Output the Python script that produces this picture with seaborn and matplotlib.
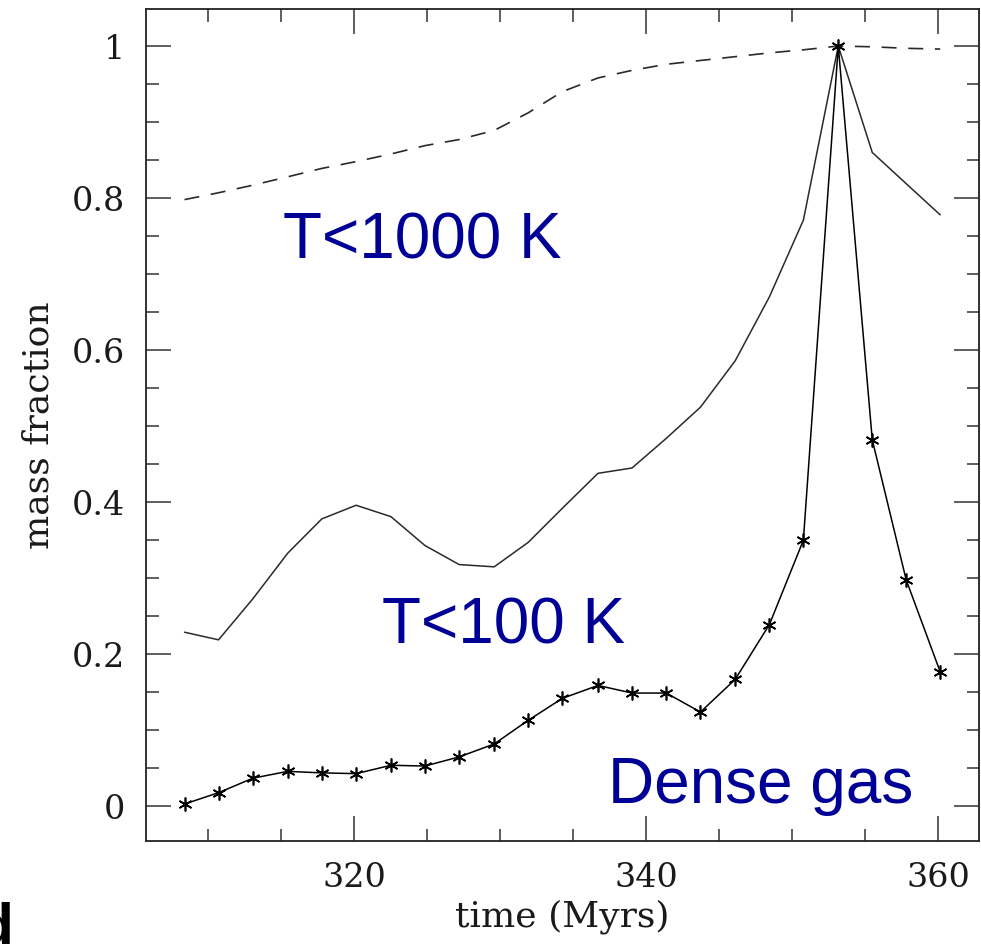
import numpy as np
import pandas as pd
import matplotlib
matplotlib.use("Agg")
import matplotlib.pyplot as plt
import seaborn as sns
from matplotlib.ticker import MultipleLocator, FixedLocator

# ---- data ----
time = [308.37, 310.70, 313.05, 315.44, 317.77, 320.12, 322.51, 324.84,
        327.18, 329.58, 331.90, 334.25, 336.69, 339.02, 341.37, 343.71,
        346.09, 348.43, 350.76, 353.15, 355.48, 357.80, 360.13]

frac_T1000 = [0.798, 0.807, 0.817, 0.828, 0.839, 0.848, 0.858, 0.869,
              0.877, 0.889, 0.912, 0.940, 0.958, 0.968, 0.976, 0.981,
              0.986, 0.991, 0.995, 1.000, 0.999, 0.997, 0.996]

frac_T100 = [0.229, 0.219, 0.273, 0.333, 0.378, 0.396, 0.381, 0.343,
             0.318, 0.315, 0.347, 0.392, 0.438, 0.445, 0.484, 0.525,
             0.586, 0.670, 0.771, 1.000, 0.860, 0.819, 0.778]

frac_dense = [0.003, 0.018, 0.037, 0.046, 0.044, 0.043, 0.054, 0.053,
              0.065, 0.082, 0.113, 0.142, 0.159, 0.149, 0.149, 0.124,
              0.167, 0.239, 0.350, 1.000, 0.482, 0.298, 0.177]

labels = ["T<1000 K", "T<100 K", "Dense gas"]
label_pos = [(315.12, 0.720), (321.87, 0.2145), (337.37, 0.004)]
x_ticks = [320, 340, 360]
y_ticks = [0, 0.2, 0.4, 0.6, 0.8, 1]
y_ticklabels = ["0", "0.2", "0.4", "0.6", "0.8", "1"]

df = pd.DataFrame({"time": time, "T1000": frac_T1000,
                   "T100": frac_T100, "dense": frac_dense})

sns.set_style("white")
plt.rcParams["font.family"] = ["DejaVu Serif"]

fig = plt.figure(figsize=(9.81, 9.48), dpi=100)
ax = fig.add_axes([146/981, 1 - 841/948, (979-146)/981, (841-9)/948])

line_col = "#2a2a2a"
sns.lineplot(data=df, x="time", y="T1000", ax=ax, color=line_col, lw=1.2,
             estimator=None, sort=False)
ax.lines[-1].set_dashes((9, 7))
sns.lineplot(data=df, x="time", y="T100", ax=ax, color=line_col, lw=1.1,
             estimator=None, sort=False)
sns.lineplot(data=df, x="time", y="dense", ax=ax, color="black", lw=1.1,
             estimator=None, sort=False, marker=(6, 2, 0), markersize=10,
             markeredgewidth=1.2, markeredgecolor="black")

ax.set_xlim(305.73, 362.79)
ax.set_ylim(-0.0456, 1.0487)

ax.xaxis.set_major_locator(FixedLocator(x_ticks))
ax.xaxis.set_minor_locator(MultipleLocator(5))
ax.yaxis.set_major_locator(FixedLocator(y_ticks))
ax.set_yticklabels(y_ticklabels)
ax.yaxis.set_minor_locator(MultipleLocator(0.05))

ax.tick_params(which="both", direction="in", top=True, right=True,
               bottom=True, left=True, color="#333333", width=1.1,
               labelsize=24, labelcolor="#1a1a1a")
ax.tick_params(which="major", length=18, pad=15)
ax.tick_params(which="minor", length=9)
for s in ax.spines.values():
    s.set_color("#222222")
    s.set_linewidth(1.3)

ax.set_xlabel("time (Myrs)", fontsize=26, color="#1a1a1a", labelpad=4)
ax.set_ylabel("mass fraction", fontsize=26, color="#1a1a1a", labelpad=12)

for txt, (tx, ty) in zip(labels, label_pos):
    ax.text(tx, ty, txt, fontsize=46, color="#000096",
            family="Liberation Sans", ha="left", va="baseline")

fig.text(13/981, -8/948, "d", fontsize=42, fontweight="bold",
         family="Liberation Sans", ha="right", va="bottom", color="black")

fig.savefig("out.png", dpi=100)
